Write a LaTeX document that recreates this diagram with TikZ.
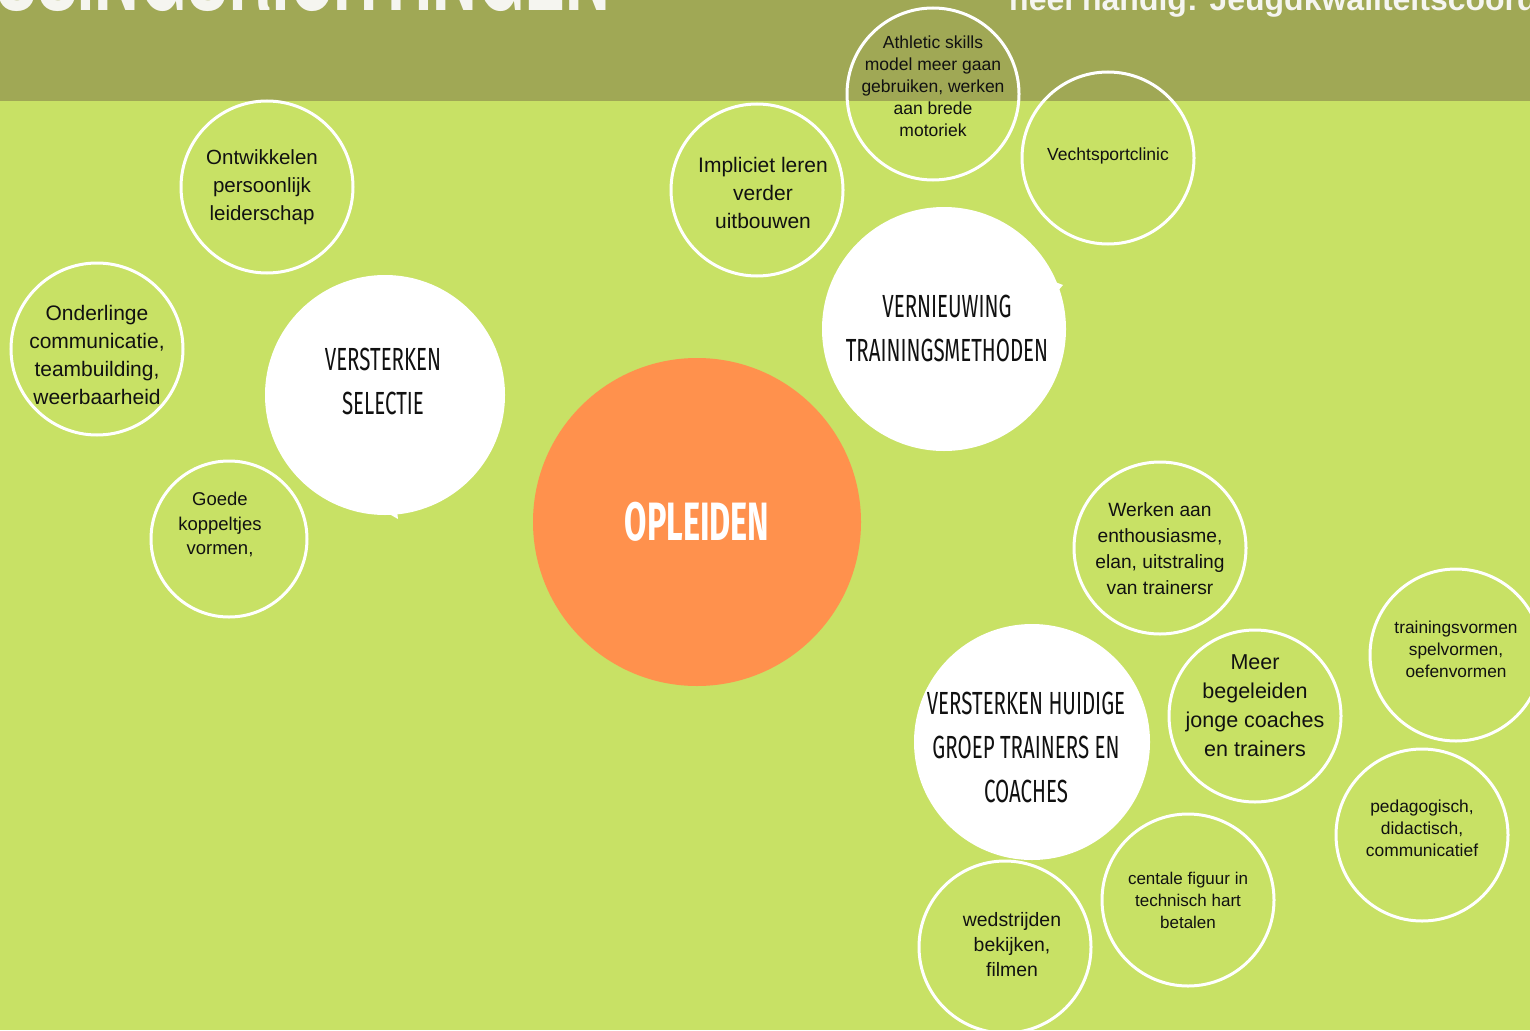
\documentclass[tikz,border=0pt]{standalone}
\usepackage{fontspec}
\setmainfont{Liberation Sans}
\newfontfamily\condfont[FakeStretch=0.64]{Fira Sans}
\newfontfamily\condboldfont[FakeStretch=0.6]{Fira Sans}
\newfontfamily\titlefont[FakeStretch=0.68]{TeX Gyre Heros}
\definecolor{lime}{HTML}{C8E165}
\definecolor{banner}{HTML}{A0A855}
\definecolor{orangec}{HTML}{FF914D}
\definecolor{titlewhite}{HTML}{F5F5F0}
\definecolor{ink}{HTML}{111111}
\begin{document}
\begin{tikzpicture}[x=1pt,y=-1pt,
  ring/.style={circle, draw=white, line width=3pt, inner sep=0pt, minimum size=#1},
  disc/.style={circle, fill=white, inner sep=0pt, minimum size=#1},
  txt/.style n args={2}{align=center, inner sep=0pt, text=ink, yshift=-1.5pt, font=\fontsize{#1}{#2}\selectfont},
  head/.style={align=center, inner sep=0pt, text=ink, font=\condfont\fontsize{32}{44}\selectfont}]
\useasboundingbox (0,0) rectangle (1530,1030);
\begin{scope}
\clip (0,0) rectangle (1530,1030);
\fill[lime] (0,0) rectangle (1530,1030);
\fill[banner] (0,0) rectangle (1530,101);
\node[anchor=base east, inner sep=0pt, text=titlewhite, font=\titlefont\bfseries\fontsize{90}{90}\selectfont] (title) at (610,11) {OPLOSSINGSRICHTINGEN};
\node[anchor=base west, inner sep=0pt, text=titlewhite, font=\bfseries\fontsize{32}{32}\selectfont] (subtitle) at (1009,11) {heel handig: Jeugdkwaliteitscoördinator};

% central
\node[circle, fill=orangec, inner sep=0pt, minimum size=328] (opl) at (697,522) {};
\node[inner sep=0pt, text=white, font=\condboldfont\bfseries\fontsize{54}{54}\selectfont] (opltxt) at (697,522) {OPLEIDEN};

% outline rings
\node[ring=172] (r1) at (267,187) {};
\node[ring=172] (r2) at (97,349) {};
\node[ring=156] (r3) at (229,539) {};
\node[ring=172] (r6) at (757,190) {};
\node[ring=172] (r7) at (933,94) {};
\node[ring=172] (r8) at (1108,158) {};
\node[ring=172] (r10) at (1160,548) {};
\node[ring=172] (r12) at (1255,716) {};
\node[ring=172] (r13) at (1456,655) {};
\node[ring=172] (r14) at (1422,835) {};
\node[ring=172] (r15) at (1188,900) {};
\node[ring=172] (r16) at (1005,947) {};

% white discs
\node[disc=240] (sel) at (385,395) {};
\fill[white] (384,511) -- (398,519) -- (397,511) -- cycle;
\node[disc=244] (vern) at (944,329) {};
\fill[white] (1055,282) -- (1063,285) -- (1057,292) -- cycle;
\node[disc=236] (huid) at (1032,742) {};

% headings
\node[head] (seltxt) at (383,381) {VERSTERKEN\\SELECTIE};
\node[head] (verntxt) at (947,328) {VERNIEUWING\\TRAININGSMETHODEN};
\node[head] (huidtxt) at (1026,747) {VERSTERKEN HUIDIGE\\GROEP TRAINERS EN\\COACHES};

% small texts
\node[txt={20.5}{28}] (t1) at (262,186) {Ontwikkelen\\persoonlijk\\leiderschap};
\node[txt={21}{28}] (t2) at (97,353) {Onderlinge\\communicatie,\\teambuilding,\\weerbaarheid};
\node[txt={18.5}{24.5}] (t3) at (220,523) {Goede\\koppeltjes\\vormen,};
\node[txt={21}{28}] (t6) at (763,191) {Impliciet leren\\verder\\uitbouwen};
\node[txt={17.5}{22}] (t7) at (933,85) {Athletic skills\\model meer gaan\\gebruiken, werken\\aan brede\\motoriek};
\node[txt={17.5}{22}] (t8) at (1108,154) {Vechtsportclinic};
\node[txt={19.2}{26}] (t10) at (1160,547) {Werken aan\\enthousiasme,\\elan, uitstraling\\van trainersr};
\node[txt={21.5}{29}] (t12) at (1255,704) {Meer\\begeleiden\\jonge coaches\\en trainers};
\node[txt={17.3}{22}] (t13) at (1456,648) {trainingsvormen\\spelvormen,\\oefenvormen};
\node[txt={17.4}{22}] (t14) at (1422,827) {pedagogisch,\\didactisch,\\communicatief};
\node[txt={17}{22}] (t15) at (1188,899) {centale figuur in\\technisch hart\\betalen};
\node[txt={19.4}{25}] (t16) at (1012,943) {wedstrijden\\bekijken,\\filmen};
\end{scope}
\end{tikzpicture}
\end{document}
